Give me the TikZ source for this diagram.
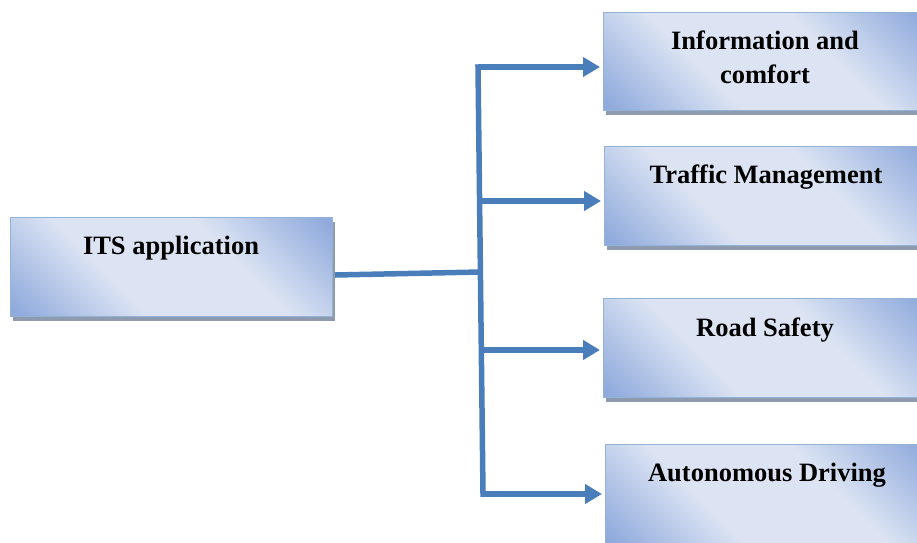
\documentclass[tikz,border=0pt]{standalone}
\usepackage{fontspec}
\setmainfont{Liberation Serif}
\usetikzlibrary{arrows.meta,shadows}

\definecolor{boxdark}{HTML}{8FAADC}
\definecolor{boxlight}{HTML}{DCE4F3}
\definecolor{boxedge}{HTML}{95B3D7}
\definecolor{boxshadow}{HTML}{8E9AAE}
\definecolor{linkblue}{HTML}{4A7EBB}

% diagonal gradient: dark corners top-right / bottom-left, light band between
\pgfdeclarehorizontalshading{panelshade}{100bp}{%
  color(0bp)=(boxdark); color(16bp)=(boxdark); color(38bp)=(boxlight);
  color(62bp)=(boxlight); color(84bp)=(boxdark); color(100bp)=(boxdark)}

\tikzset{
  panel/.style={rectangle, anchor=north west, inner sep=0pt, outer sep=0pt,
    shading=panelshade, shading angle=45, draw=boxedge, line width=1pt,
    drop shadow={shadow xshift=3pt, shadow yshift=-4.5pt,
      fill=boxshadow, opacity=1}},
  caption/.style={font=\bfseries\fontsize{26.5}{33.5}\selectfont,
    align=center, inner sep=0pt, anchor=north},
  link/.style={draw=linkblue, line width=5.5pt},
  arrowlink/.style={link, -{Triangle[length=17pt,width=19pt]}, shorten >=3pt}
}

\begin{document}
\begin{tikzpicture}[x=1pt,y=-1pt]
  \useasboundingbox (0,0) rectangle (917,542);
  \clip (0,0) rectangle (917,542);

  % boxes
  \node[panel, minimum width=322pt, minimum height=99pt] (b0) at (10,217) {};
  \node[panel, minimum width=324pt, minimum height=98pt] (b1) at (603,12) {};
  \node[panel, minimum width=324pt, minimum height=99pt] (b2) at (604,146) {};
  \node[panel, minimum width=324pt, minimum height=99pt] (b3) at (603,298) {};
  \node[panel, minimum width=324pt, minimum height=100pt] (b4) at (605,444) {};

  % captions
  \node[caption] (t0) at ([yshift=-19pt]b0.north) {ITS application};
  \node[caption] (t1) at ([yshift=-19pt]b1.north) {Information and\\comfort};
  \node[caption] (t2) at ([yshift=-19pt]b2.north) {Traffic Management};
  \node[caption] (t3) at ([yshift=-20pt]b3.north) {Road Safety};
  \node[caption] (t4) at ([yshift=-19pt]b4.north) {Autonomous Driving};

  % trunk and junction points
  \coordinate (j1) at (478,67);
  \coordinate (j2) at (479.6,201);
  \coordinate (j0) at (480.4,272);
  \coordinate (j3) at (481.3,350);
  \coordinate (j4) at (483,494);

  \draw[link] ([shift={(3,8.5)}]b0.east) -- (j0);
  \draw[link, line cap=rect] (j1) -- (j4);

  \draw[arrowlink] (j1) -- (j1 -| b1.west);
  \draw[arrowlink] (j2) -- (j2 -| b2.west);
  \draw[arrowlink] (j3) -- (j3 -| b3.west);
  \draw[arrowlink] (j4) -- (j4 -| b4.west);
\end{tikzpicture}
\end{document}
